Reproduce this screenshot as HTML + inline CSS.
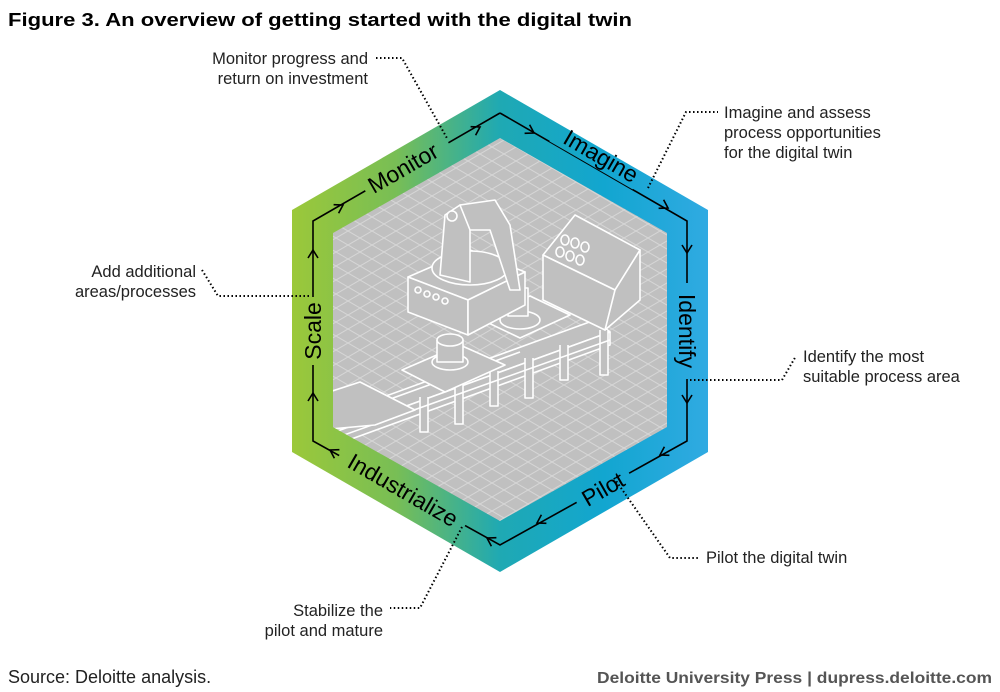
<!DOCTYPE html>
<html><head><meta charset="utf-8"><style>
html,body{margin:0;padding:0;background:#fff}
svg{display:block}
text{font-family:"Liberation Sans",sans-serif}
</style></head><body>
<svg width="1000" height="692" viewBox="0 0 1000 692" xmlns="http://www.w3.org/2000/svg">
<defs>
<linearGradient id="g" x1="292" y1="0" x2="708" y2="0" gradientUnits="userSpaceOnUse">
<stop offset="0" stop-color="#9bc83a"/><stop offset="0.25" stop-color="#78be55"/><stop offset="0.5" stop-color="#1fa9b3"/><stop offset="0.75" stop-color="#12a6d0"/><stop offset="1" stop-color="#30aae2"/>
</linearGradient>
<pattern id="grid" width="24" height="14" patternUnits="userSpaceOnUse">
<rect width="24" height="14" fill="#c0c0c0"/>
<path d="M0 0L24 14M0 14L24 0" stroke="#d6d6d6" stroke-width="1"/>
</pattern>
<clipPath id="inner"><polygon points="500,138 667,233 667,427 500,521 333,427 333,233"/></clipPath>
<mask id="m">
<rect width="1000" height="692" fill="#fff"/>
<g fill="#000">
<rect x="-48" y="-12" width="96" height="24" transform="translate(407,167) rotate(-30)"/>
<rect x="-48" y="-12" width="96" height="24" transform="translate(597,155) rotate(30)"/>
<rect x="-48" y="-12" width="96" height="24" transform="translate(687,331) rotate(90)"/>
<rect x="-30" y="-12" width="60" height="24" transform="translate(603,488) rotate(-30)"/>
<rect x="-72" y="-12" width="144" height="24" transform="translate(403,489) rotate(30)"/>
<rect x="-34" y="-12" width="68" height="24" transform="translate(313,331) rotate(-90)"/>
</g>
</mask>
</defs>

<text x="8" y="26" font-size="18.5" font-weight="bold" fill="#000" textLength="624" lengthAdjust="spacingAndGlyphs">Figure 3. An overview of getting started with the digital twin</text>

<polygon points="500,90 708,210 708,452 500,572 292,452 292,210" fill="url(#g)"/>
<polygon points="500,138 667,233 667,427 500,521 333,427 333,233" fill="url(#grid)"/>

<g clip-path="url(#inner)" fill="#c0c0c0" stroke="#fff" stroke-width="1.6" stroke-linejoin="round">
<polygon points="320,420 595,320 610,332 335,432"/>
<polygon points="335,432 610,332 610,345 335,445"/>
<path d="M600,330 v45 h8 v-45 M560,345 v35 h8 v-35 M525,358 v40 h8 v-40 M490,371 v35 h8 v-35 M455,384 v40 h8 v-40 M420,397 v35 h8 v-35" fill="#c0c0c0"/>
<path d="M360,410 L520,352 M330,440 L610,340"/>
<polygon points="320,395 360,382 415,410 375,425 320,430"/>
<polygon points="543,255 575,215 640,250 615,290"/>
<polygon points="615,290 640,250 640,300 605,330 605,295"/>
<polygon points="543,255 615,290 605,330 543,300"/>
<ellipse cx="565" cy="240" rx="4" ry="5"/><ellipse cx="575" cy="243" rx="4" ry="5"/><ellipse cx="585" cy="247" rx="4" ry="5"/>
<ellipse cx="560" cy="252" rx="4" ry="5"/><ellipse cx="570" cy="256" rx="4" ry="5"/><ellipse cx="580" cy="260" rx="4" ry="5"/>
<polygon points="478,318 530,296 570,315 520,338"/>
<ellipse cx="520" cy="320" rx="20" ry="9"/>
<rect x="508" y="288" width="20" height="28"/>
<polygon points="408,277 470,250 525,272 468,300"/>
<polygon points="408,277 468,300 468,335 408,312"/>
<polygon points="468,300 525,272 525,305 468,335"/>
<circle cx="418" cy="290" r="3"/><circle cx="427" cy="294" r="3"/><circle cx="436" cy="297" r="3"/><circle cx="445" cy="301" r="3"/>
<ellipse cx="470" cy="268" rx="38" ry="17"/>
<polygon points="445,215 460,205 470,225 470,282 440,275"/>
<circle cx="452" cy="216" r="5"/>
<polygon points="460,205 495,200 510,225 520,290 510,290 490,230 470,230"/>
<polygon points="402,370 460,345 505,365 445,392"/>
<ellipse cx="450" cy="362" rx="18" ry="8"/>
<rect x="437" y="340" width="26" height="22"/>
<ellipse cx="450" cy="340" rx="13" ry="6"/>
</g>

<polyline points="500,113 687,221 687,441 500,545 313,441 313,221 500,113" fill="none" stroke="#000" stroke-width="1.6" mask="url(#m)"/>
<g fill="none" stroke="#000" stroke-width="1.6" stroke-linejoin="miter">
<polyline points="338.6,213.3 343,205 333.6,204.7"/>
<polyline points="475.6,135.3 480,127 470.6,126.7"/>
<polyline points="524.6,133.3 534,133 529.6,124.7"/>
<polyline points="658.6,208.3 668,208 663.6,199.7"/>
<polyline points="682,245 687,253 692,245"/>
<polyline points="682,395 687,403 692,395"/>
<polyline points="669.4,455.3 660,455 664.4,446.7"/>
<polyline points="546.4,523.3 537,523 541.4,514.7"/>
<polyline points="496.4,537.7 487,538 491.4,546.3"/>
<polyline points="339.4,449.7 330,450 334.4,458.3"/>
<polyline points="308,401 313,393 318,401"/>
<polyline points="308,258 313,250 318,258"/>
</g>

<g font-size="23" fill="#000">
<text transform="translate(407,175) rotate(-30)" text-anchor="middle">Monitor</text>
<text transform="translate(597,163) rotate(30)" text-anchor="middle">Imagine</text>
<text transform="translate(679,331) rotate(90)" text-anchor="middle">Identify</text>
<text transform="translate(607,496) rotate(-30)" text-anchor="middle">Pilot</text>
<text transform="translate(399,497) rotate(30)" text-anchor="middle">Industrialize</text>
<text transform="translate(321,331) rotate(-90)" text-anchor="middle">Scale</text>
</g>

<g fill="none" stroke="#000" stroke-width="2" stroke-dasharray="1.5 2.5">
<polyline points="376,58 402,58 448,140"/>
<polyline points="648,188 686,112 718,112"/>
<polyline points="202,270 218,296 310,296"/>
<polyline points="690,380 782,380 796,356"/>
<polyline points="614,478 670,558 700,558"/>
<polyline points="462,527 420,608 390,608"/>
</g>

<g font-size="16.5" fill="#222">
<text x="368" y="64" text-anchor="end">Monitor progress and</text>
<text x="368" y="84" text-anchor="end">return on investment</text>
<text x="724" y="118">Imagine and assess</text>
<text x="724" y="138">process opportunities</text>
<text x="724" y="158">for the digital twin</text>
<text x="196" y="277" text-anchor="end">Add additional</text>
<text x="196" y="297" text-anchor="end">areas/processes</text>
<text x="803" y="362">Identify the most</text>
<text x="803" y="382">suitable process area</text>
<text x="706" y="563">Pilot the digital twin</text>
<text x="383" y="616" text-anchor="end">Stabilize the</text>
<text x="383" y="636" text-anchor="end">pilot and mature</text>
</g>

<text x="8" y="683" font-size="18" fill="#222">Source: Deloitte analysis.</text>
<text x="597" y="683" font-size="16" font-weight="bold" fill="#555" textLength="395" lengthAdjust="spacingAndGlyphs">Deloitte University Press  |  dupress.deloitte.com</text>
</svg>
</body></html>
